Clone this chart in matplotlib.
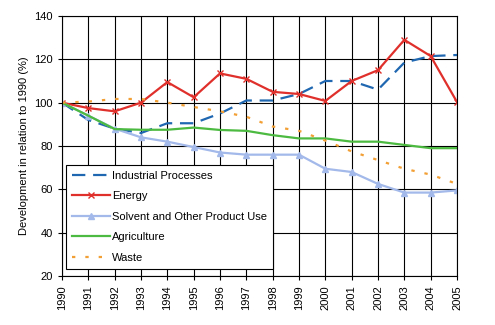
import matplotlib.pyplot as plt

years = list(range(1990, 2006))

industrial = [100, 92, 88, 86, 90.5, 90.5, 95, 101, 101, 104, 110, 110, 106, 118.5, 121.5, 122]
energy = [100, 97.5, 96, 100, 109.5, 102.5, 113.5, 111, 105, 104, 100.8, 110, 115, 129, 121.5, 100.3]
solvent = [100, 94, 88, 84, 82, 79.5, 77, 76, 76, 76, 69.5, 68, 62.5, 58.5, 58.5, 59.5]
agriculture = [100, 94, 87.8, 87.5, 87.5, 88.5, 87.4, 87, 85, 83.5, 83.5, 82, 82, 80.5, 79, 79]
waste = [100, 100.5, 101.7, 101.7, 100, 98, 96, 93.5, 89, 87, 82.5, 77.5, 73.5, 69.5, 66.8, 62.5]

plt.rcParams['font.family'] = ['Liberation Sans', 'DejaVu Sans']

fig = plt.figure(figsize=(4.95, 3.25), dpi=100)
ax = fig.add_axes([62 / 495, 1 - 276 / 325, (457 - 62) / 495, (276 - 16) / 325])

ax.plot(years, industrial, color='#1f67b0', lw=1.6, dashes=(6, 3.5), label='Industrial Processes')
ax.plot(years, energy, color='#e0302c', lw=1.6, marker='x', ms=5, mew=1,
        label='Energy')
ax.plot(years, solvent, color='#a3b9ea', lw=1.6, marker='^', ms=5,
        label='Solvent and Other Product Use')
ax.plot(years, agriculture, color='#4cba40', lw=1.6, label='Agriculture')
ax.plot(years, waste, color='#f2a035', lw=1.6, dashes=(1.5, 4.5), label='Waste')

ax.set_xlim(1990, 2005)
ax.set_ylim(20, 140)
ax.set_xticks(years)
ax.set_xticklabels([str(y) for y in years], rotation=90, fontsize=8)
ax.set_yticks(range(20, 141, 20))
ax.tick_params(axis='y', labelsize=8)
ax.tick_params(direction='out', length=3, color='black')
ax.grid(True, color='black', lw=0.8)
ax.set_axisbelow(True)
for s in ax.spines.values():
    s.set_color('black')
    s.set_linewidth(0.8)

ax.set_ylabel('Development in relation to 1990 (%)', fontsize=8)

leg = ax.legend(loc='lower left', bbox_to_anchor=(0.01, 0.027), borderaxespad=0,
                fontsize=8, frameon=True, fancybox=False, handlelength=3.4,
                labelspacing=0.95, borderpad=0.55, handletextpad=0.2)
leg.get_frame().set_edgecolor('black')
leg.get_frame().set_linewidth(0.8)
leg.get_frame().set_alpha(1)

fig.savefig('out.png', dpi=100)
